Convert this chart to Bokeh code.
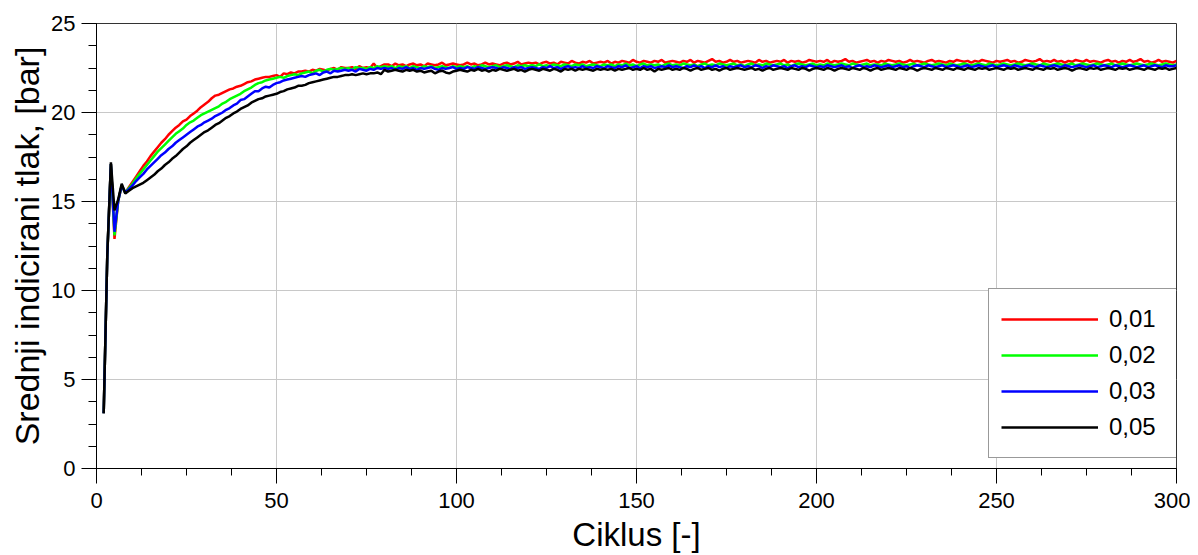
from bokeh.plotting import figure
from bokeh.models import Legend, LegendItem, FixedTicker
from bokeh.embed import file_html
from bokeh.resources import INLINE

# ---------------- data ----------------
cycles = list(range(2, 301))
series_labels = ["0,01", "0,02", "0,03", "0,05"]

red = [3.1, 12.0, 17.1, 12.9, 15.0, 15.9, 15.5,
       15.8, 16.1, 16.4, 16.7, 17.0, 17.25, 17.55, 17.8, 18.05, 18.3, 18.5, 18.75,
       18.95, 19.15, 19.3, 19.5, 19.6, 19.8, 19.95, 20.1, 20.3, 20.45, 20.6, 20.8,
       20.95, 21.0, 21.1, 21.2, 21.3, 21.35, 21.45, 21.5, 21.6, 21.7, 21.75, 21.85,
       21.9, 21.95, 22.0, 22.0, 22.05, 22.1, 22.0, 22.2, 22.15, 22.25, 22.2, 22.3,
       22.3, 22.35, 22.3, 22.4, 22.35, 22.45, 22.4, 22.35, 22.45, 22.5, 22.4, 22.55,
       22.5, 22.5, 22.55, 22.45, 22.6, 22.5, 22.55, 22.5, 22.75, 22.5, 22.6, 22.7,
       22.7, 22.6, 22.75, 22.65, 22.7, 22.6, 22.7, 22.75, 22.65, 22.7, 22.6, 22.75, 22.7, 22.65, 22.7, 22.8, 22.65, 22.7, 22.75, 22.7,
       22.65, 22.7, 22.8, 22.7, 22.75, 22.65, 22.7, 22.8, 22.7, 22.75, 22.7, 22.65, 22.75, 22.8, 22.7, 22.75, 22.85, 22.7, 22.75, 22.8,
       22.75, 22.8, 22.7, 22.8, 22.85, 22.75, 22.8, 22.7, 22.85, 22.8, 22.75, 22.9, 22.8, 22.75, 22.85, 22.8, 22.9, 22.75, 22.8, 22.85,
       22.8, 22.9, 22.75, 22.85, 22.8, 22.9, 22.85, 22.8, 22.95, 22.85, 22.8, 22.9, 22.85, 22.8, 22.9, 22.85, 22.95, 22.8, 22.85, 22.9,
       22.85, 22.8, 22.9, 22.85, 22.95, 22.8, 22.9, 22.85, 22.8, 22.9, 23.0, 22.85, 22.9, 22.8, 22.85, 22.95, 22.85, 22.9, 22.8, 22.85,
       22.9, 22.85, 22.8, 22.95, 22.85, 22.9, 22.8, 22.85, 22.9, 22.85, 22.95, 22.8, 22.9, 22.85, 22.9, 22.8, 22.85, 22.95, 22.9, 22.85,
       22.9, 22.85, 22.95, 22.8, 22.9, 22.85, 22.9, 23.0, 22.85, 22.9, 22.8, 22.85, 22.9, 22.95, 22.85, 22.9, 22.8, 22.9, 22.85, 22.95,
       22.9, 22.85, 22.9, 22.8, 22.85, 22.95, 22.85, 22.9, 22.85, 22.8, 22.9, 22.95, 22.85, 22.9, 22.85, 22.8, 22.9, 22.85, 22.95, 22.9,
       22.85, 22.9, 22.8, 22.9, 22.85, 22.95, 22.9, 22.85, 22.8, 22.9, 22.85, 22.9, 22.95, 22.85, 22.9, 22.8, 22.85, 22.95, 22.9, 22.85,
       22.9, 23.0, 22.85, 22.9, 22.85, 22.95, 22.85, 22.9, 22.8, 22.9, 22.85, 22.95, 22.9, 22.85, 22.95, 22.85, 22.9, 22.85, 22.8, 22.9,
       22.95, 22.85, 22.9, 22.8, 22.9, 22.85, 22.95, 22.85, 22.9, 23.0, 22.85, 22.9, 22.8, 22.85, 22.95, 22.85, 22.9, 22.85, 22.8, 22.9]

green = [3.1, 12.0, 17.1, 13.1, 15.0, 15.9, 15.5,
         15.75, 16.0, 16.3, 16.55, 16.8, 17.05, 17.3, 17.55, 17.8, 18.0, 18.2, 18.4,
         18.6, 18.8, 18.95, 19.1, 19.3, 19.45, 19.55, 19.7, 19.85, 19.95, 20.05, 20.15,
         20.25, 20.35, 20.5, 20.6, 20.75, 20.85, 20.95, 21.05, 21.2, 21.3, 21.4, 21.55,
         21.65, 21.7, 21.8, 21.85, 21.9, 21.95, 22.0, 21.95, 22.05, 22.1, 22.15, 22.1,
         22.2, 22.25, 22.3, 22.2, 22.35, 22.4, 22.3, 22.4, 22.45, 22.4, 22.45, 22.5,
         22.45, 22.5, 22.4, 22.55, 22.5, 22.5, 22.45, 22.55, 22.5, 22.6, 22.55, 22.6,
         22.55, 22.6, 22.5, 22.6, 22.55, 22.6, 22.5, 22.6, 22.55, 22.5, 22.6, 22.55, 22.6, 22.5, 22.55, 22.6, 22.55, 22.5, 22.6, 22.55,
         22.6, 22.55, 22.6, 22.5, 22.6, 22.55, 22.65, 22.6, 22.55, 22.6, 22.65, 22.55, 22.6, 22.65, 22.6, 22.55, 22.65, 22.6, 22.65, 22.6,
         22.65, 22.6, 22.7, 22.6, 22.65, 22.6, 22.7, 22.65, 22.6, 22.7, 22.65, 22.6, 22.7, 22.65, 22.7, 22.6, 22.65, 22.7, 22.65, 22.6,
         22.7, 22.65, 22.7, 22.6, 22.7, 22.65, 22.75, 22.65, 22.7, 22.6, 22.7, 22.75, 22.65, 22.7, 22.65, 22.7, 22.6, 22.7, 22.75, 22.65,
         22.7, 22.65, 22.75, 22.7, 22.65, 22.7, 22.6, 22.7, 22.75, 22.65, 22.7, 22.65, 22.75, 22.7, 22.65, 22.7, 22.75, 22.65, 22.7, 22.6,
         22.7, 22.75, 22.65, 22.7, 22.65, 22.75, 22.7, 22.65, 22.7, 22.75, 22.65, 22.7, 22.6, 22.7, 22.75, 22.7, 22.65, 22.7, 22.75, 22.65,
         22.7, 22.65, 22.75, 22.7, 22.65, 22.7, 22.75, 22.7, 22.65, 22.75, 22.7, 22.65, 22.7, 22.75, 22.65, 22.7, 22.7, 22.65, 22.75, 22.7,
         22.65, 22.7, 22.75, 22.7, 22.65, 22.7, 22.75, 22.65, 22.7, 22.75, 22.7, 22.65, 22.7, 22.75, 22.7, 22.65, 22.75, 22.7, 22.65, 22.7,
         22.75, 22.7, 22.65, 22.7, 22.75, 22.7, 22.65, 22.75, 22.7, 22.65, 22.7, 22.75, 22.7, 22.65, 22.7, 22.75, 22.7, 22.65, 22.7, 22.75,
         22.7, 22.65, 22.75, 22.7, 22.65, 22.7, 22.75, 22.7, 22.65, 22.7, 22.75, 22.65, 22.7, 22.75, 22.7, 22.65, 22.7, 22.75, 22.7, 22.65,
         22.7, 22.75, 22.65, 22.7, 22.75, 22.7, 22.65, 22.7, 22.75, 22.7, 22.65, 22.7, 22.75, 22.7, 22.65, 22.7, 22.75, 22.7, 22.65, 22.7]

blue = [3.1, 12.0, 17.1, 13.3, 15.0, 15.9, 15.5,
        15.7, 15.9, 16.15, 16.35, 16.55, 16.8, 17.0, 17.2, 17.4, 17.6, 17.75, 17.95,
        18.1, 18.3, 18.45, 18.6, 18.75, 18.9, 19.05, 19.2, 19.3, 19.45, 19.55, 19.65,
        19.8, 19.9, 20.0, 20.15, 20.25, 20.4, 20.5, 20.7, 20.75, 20.9, 21.05, 21.2,
        21.2, 21.35, 21.45, 21.4, 21.55, 21.65, 21.7, 21.8, 21.85, 21.9, 21.95, 22.0,
        22.05, 22.0, 22.1, 22.15, 22.2, 22.1, 22.25, 22.3, 22.2, 22.35, 22.3, 22.35,
        22.4, 22.35, 22.4, 22.3, 22.45, 22.4, 22.35, 22.45, 22.4, 22.5, 22.45, 22.5,
        22.45, 22.5, 22.4, 22.5, 22.45, 22.55, 22.45, 22.5, 22.4, 22.5, 22.45, 22.5, 22.55, 22.45, 22.4, 22.5, 22.45, 22.5, 22.55, 22.45,
        22.5, 22.45, 22.55, 22.5, 22.45, 22.55, 22.5, 22.45, 22.5, 22.55, 22.5, 22.45, 22.55, 22.5, 22.45, 22.55, 22.5, 22.55, 22.45, 22.5,
        22.55, 22.5, 22.45, 22.55, 22.5, 22.6, 22.5, 22.55, 22.45, 22.55, 22.6, 22.5, 22.55, 22.5, 22.6, 22.5, 22.55, 22.5, 22.6, 22.55,
        22.5, 22.6, 22.55, 22.5, 22.6, 22.55, 22.65, 22.5, 22.55, 22.6, 22.5, 22.6, 22.55, 22.6, 22.5, 22.55, 22.6, 22.55, 22.65, 22.55,
        22.6, 22.55, 22.5, 22.6, 22.55, 22.65, 22.55, 22.6, 22.5, 22.6, 22.55, 22.65, 22.55, 22.6, 22.5, 22.6, 22.55, 22.6, 22.65, 22.55,
        22.6, 22.55, 22.65, 22.6, 22.5, 22.6, 22.55, 22.65, 22.6, 22.55, 22.6, 22.5, 22.6, 22.65, 22.55, 22.6, 22.55, 22.65, 22.6, 22.55,
        22.6, 22.55, 22.65, 22.6, 22.55, 22.6, 22.65, 22.55, 22.6, 22.5, 22.6, 22.65, 22.55, 22.6, 22.55, 22.65, 22.6, 22.55, 22.6, 22.65,
        22.55, 22.6, 22.65, 22.55, 22.6, 22.5, 22.6, 22.65, 22.6, 22.55, 22.65, 22.6, 22.55, 22.6, 22.65, 22.55, 22.6, 22.65, 22.6, 22.55,
        22.6, 22.65, 22.55, 22.6, 22.65, 22.6, 22.55, 22.6, 22.65, 22.55, 22.6, 22.65, 22.6, 22.55, 22.65, 22.6, 22.55, 22.6, 22.65, 22.6,
        22.55, 22.65, 22.6, 22.55, 22.6, 22.65, 22.6, 22.55, 22.65, 22.6, 22.55, 22.6, 22.65, 22.6, 22.55, 22.6, 22.65, 22.55, 22.6, 22.65,
        22.6, 22.55, 22.65, 22.6, 22.55, 22.6, 22.65, 22.6, 22.55, 22.6, 22.65, 22.55, 22.6, 22.65, 22.6, 22.55, 22.65, 22.6, 22.6, 22.65]

black = [3.1, 12.0, 17.2, 14.5, 15.1, 16.0, 15.45,
         15.6, 15.75, 15.85, 15.95, 16.05, 16.2, 16.35, 16.5, 16.7, 16.85, 17.05, 17.2,
         17.4, 17.55, 17.75, 17.95, 18.1, 18.3, 18.45, 18.6, 18.75, 18.9, 19.0, 19.15,
         19.3, 19.4, 19.55, 19.7, 19.8, 19.95, 20.05, 20.2, 20.3, 20.4, 20.55, 20.65,
         20.75, 20.8, 20.9, 20.95, 21.0, 21.05, 21.15, 21.2, 21.3, 21.35, 21.4, 21.5,
         21.5, 21.55, 21.65, 21.7, 21.75, 21.8, 21.85, 21.9, 21.95, 22.0, 22.0, 22.05,
         22.1, 22.1, 22.15, 22.1, 22.15, 22.2, 22.15, 22.2, 22.2, 22.25, 22.15, 22.4,
         22.3, 22.35, 22.4, 22.35, 22.3, 22.4, 22.35, 22.4, 22.3, 22.35, 22.25, 22.3, 22.35, 22.2, 22.3, 22.35, 22.25, 22.2, 22.3, 22.35,
         22.4, 22.35, 22.3, 22.4, 22.35, 22.45, 22.35, 22.4, 22.3, 22.4, 22.35, 22.45, 22.4, 22.35, 22.4, 22.45, 22.35, 22.4, 22.3, 22.4,
         22.45, 22.4, 22.35, 22.45, 22.4, 22.35, 22.45, 22.4, 22.3, 22.45, 22.4, 22.45, 22.35, 22.45, 22.4, 22.45, 22.4, 22.35, 22.45, 22.4,
         22.45, 22.4, 22.45, 22.35, 22.45, 22.4, 22.45, 22.5, 22.4, 22.45, 22.4, 22.5, 22.4, 22.45, 22.3, 22.45, 22.4, 22.45, 22.5, 22.4,
         22.45, 22.4, 22.5, 22.45, 22.35, 22.45, 22.5, 22.4, 22.45, 22.5, 22.4, 22.45, 22.35, 22.45, 22.5, 22.4, 22.45, 22.5, 22.45, 22.4,
         22.45, 22.5, 22.4, 22.45, 22.35, 22.45, 22.5, 22.4, 22.45, 22.5, 22.45, 22.4, 22.5, 22.45, 22.4, 22.5, 22.45, 22.35, 22.45, 22.5,
         22.45, 22.4, 22.5, 22.45, 22.35, 22.45, 22.5, 22.45, 22.4, 22.5, 22.45, 22.4, 22.5, 22.45, 22.35, 22.45, 22.5, 22.4, 22.45, 22.5,
         22.45, 22.4, 22.5, 22.45, 22.4, 22.5, 22.45, 22.35, 22.45, 22.5, 22.45, 22.4, 22.5, 22.45, 22.4, 22.5, 22.45, 22.4, 22.5, 22.45,
         22.4, 22.5, 22.45, 22.4, 22.5, 22.45, 22.5, 22.4, 22.45, 22.5, 22.45, 22.4, 22.5, 22.45, 22.5, 22.4, 22.45, 22.5, 22.45, 22.4,
         22.5, 22.45, 22.4, 22.5, 22.45, 22.5, 22.4, 22.45, 22.5, 22.45, 22.35, 22.45, 22.5, 22.45, 22.4, 22.5, 22.45, 22.5, 22.4, 22.45,
         22.5, 22.45, 22.4, 22.5, 22.45, 22.5, 22.4, 22.45, 22.5, 22.45, 22.4, 22.5, 22.45, 22.4, 22.5, 22.45, 22.5, 22.4, 22.45, 22.5]

x_ticks = [0, 50, 100, 150, 200, 250, 300]
y_ticks = [0, 5, 10, 15, 20, 25]
colors = ["#ff0000", "#00ff00", "#0000ff", "#000000"]

FONT = "Liberation Sans"

p = figure(width=1190, height=555, x_range=(0, 300), y_range=(0, 25),
           output_backend="svg", toolbar_location=None,
           min_border_left=96, min_border_right=14, min_border_top=23, min_border_bottom=87)

renderers = []
for ys, c in zip([red, green, blue, black], colors):
    r = p.line(cycles, ys, line_color=c, line_width=2.5)
    renderers.append(r)

# axes
p.xaxis.ticker = FixedTicker(ticks=x_ticks, minor_ticks=[v * 12.5 for v in range(0, 25)])
p.yaxis.ticker = FixedTicker(ticks=y_ticks, minor_ticks=[v * 1.25 for v in range(0, 21)])
p.xaxis.axis_label = "Ciklus [-]"
p.yaxis.axis_label = "Srednji indicirani tlak, [bar]"
for ax in (p.xaxis, p.yaxis):
    ax.axis_label_text_font = FONT
    ax.axis_label_text_font_style = "normal"
    ax.axis_label_text_color = "#000000"
    ax.major_label_text_font = FONT
    ax.major_label_text_font_size = "22px"
    ax.major_label_text_color = "#000000"
    ax.axis_line_color = "#000000"
    ax.major_tick_line_color = "#000000"
    ax.minor_tick_line_color = "#000000"
    ax.major_tick_in = 0
    ax.minor_tick_in = 0
p.xaxis.axis_label_text_font_size = "33px"
p.yaxis.axis_label_text_font_size = "34px"
p.xaxis.major_label_text_line_height = 1.0
p.xaxis.axis_label_text_line_height = 1.0
p.xaxis.major_tick_out = 15
p.xaxis.minor_tick_out = 7
p.xaxis.major_label_standoff = 9
p.xaxis.axis_label_standoff = 5
p.yaxis.major_tick_out = 15
p.yaxis.minor_tick_out = 8
p.yaxis.major_label_standoff = 6
p.yaxis.axis_label_standoff = 2

p.xgrid.ticker = FixedTicker(ticks=x_ticks)
p.ygrid.ticker = FixedTicker(ticks=y_ticks)
p.grid.grid_line_color = "#c8c8c8"
p.grid.grid_line_width = 1
p.outline_line_color = "#333333"
p.outline_line_width = 1

items = [LegendItem(label=lab, renderers=[r]) for lab, r in zip(series_labels, renderers)]
legend = Legend(items=items, location=(892, 10),
                glyph_width=97, glyph_height=36, label_height=36, label_width=56,
                label_standoff=11, padding=12, spacing=0, margin=0,
                label_text_font=FONT, label_text_font_size="24px",
                label_text_color="#000000",
                border_line_color="#333333", border_line_width=1,
                background_fill_color="#ffffff", background_fill_alpha=1.0)
p.add_layout(legend, "center")

open("out.html", "w").write(file_html(p, INLINE))
